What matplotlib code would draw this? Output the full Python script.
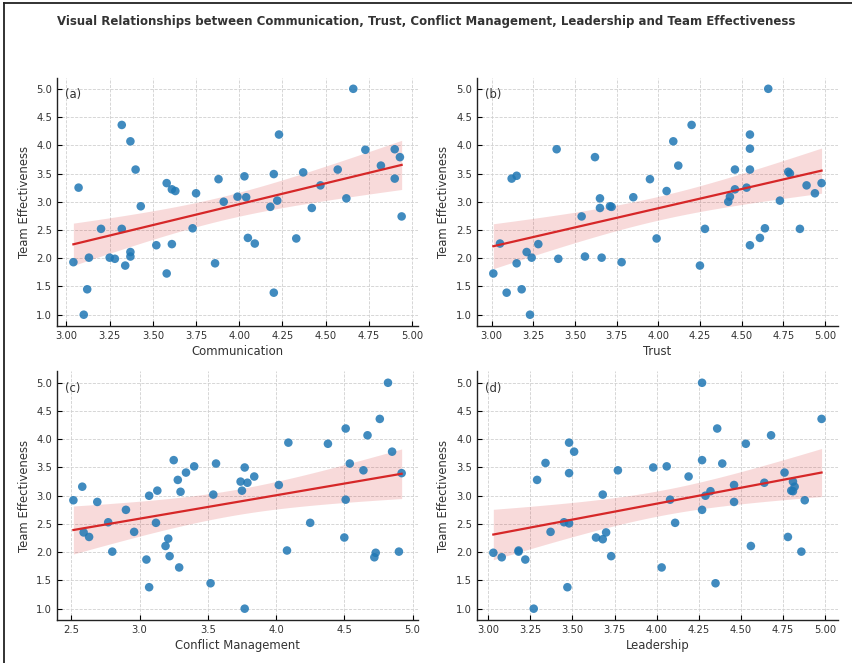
import numpy as np
import matplotlib
matplotlib.use("Agg")
import matplotlib.pyplot as plt
from matplotlib.lines import Line2D

# ---------------- data ----------------
comm_x = [3.04, 3.07, 3.10, 3.12, 3.13, 3.20, 3.25, 3.28, 3.32, 3.32, 3.34, 3.37, 3.37, 3.37, 3.40,
          3.43, 3.52, 3.58, 3.58, 3.61, 3.61, 3.63, 3.73, 3.75, 3.86, 3.88, 3.91, 3.99, 4.03, 4.04,
          4.05, 4.09, 4.18, 4.20, 4.20, 4.22, 4.23, 4.33, 4.37, 4.42, 4.47, 4.57, 4.62, 4.66, 4.73,
          4.82, 4.90, 4.90, 4.93, 4.94]
comm_y = [1.93, 3.25, 1.00, 1.45, 2.01, 2.52, 2.01, 1.99, 4.36, 2.52, 1.87, 2.03, 2.11, 4.07, 3.57,
          2.92, 2.23, 3.33, 1.73, 2.25, 3.22, 3.19, 2.53, 3.15, 1.91, 3.40, 3.00, 3.09, 3.45, 3.08,
          2.36, 2.26, 2.91, 3.49, 1.39, 3.02, 4.19, 2.35, 3.52, 2.89, 3.29, 3.57, 3.06, 5.00, 3.92,
          3.64, 3.93, 3.41, 3.79, 2.74]

trust_x = [3.01, 3.05, 3.09, 3.12, 3.15, 3.15, 3.18, 3.21, 3.23, 3.24, 3.28, 3.39, 3.40, 3.54, 3.56,
           3.62, 3.65, 3.65, 3.66, 3.71, 3.72, 3.78, 3.85, 3.95, 3.99, 4.05, 4.09, 4.12, 4.20, 4.25,
           4.28, 4.42, 4.43, 4.46, 4.46, 4.53, 4.55, 4.55, 4.55, 4.55, 4.61, 4.64, 4.66, 4.73, 4.78,
           4.79, 4.85, 4.89, 4.94, 4.98]
trust_y = [1.73, 2.26, 1.39, 3.41, 3.46, 1.91, 1.45, 2.11, 1.00, 2.01, 2.25, 3.93, 1.99, 2.74, 2.03,
           3.79, 3.06, 2.89, 2.01, 2.92, 2.91, 1.93, 3.08, 3.40, 2.35, 3.19, 4.07, 3.64, 4.36, 1.87,
           2.52, 3.00, 3.09, 3.57, 3.22, 3.25, 2.23, 4.19, 3.57, 3.94, 2.36, 2.53, 5.00, 3.02, 3.53,
           3.50, 2.52, 3.29, 3.15, 3.33]

conf_x = [2.515, 2.58, 2.59, 2.63, 2.69, 2.77, 2.80, 2.90, 2.96, 3.05, 3.07, 3.07, 3.12, 3.13, 3.19,
          3.21, 3.22, 3.25, 3.28, 3.29, 3.30, 3.34, 3.40, 3.52, 3.54, 3.56, 3.74, 3.75, 3.77, 3.77,
          3.79, 3.84, 4.02, 4.08, 4.09, 4.25, 4.38, 4.50, 4.51, 4.51, 4.54, 4.64, 4.67, 4.72, 4.73,
          4.76, 4.82, 4.85, 4.90, 4.92]
conf_y = [2.92, 3.16, 2.35, 2.27, 2.89, 2.53, 2.01, 2.75, 2.36, 1.87, 3.00, 1.38, 2.52, 3.09, 2.11,
          2.24, 1.93, 3.63, 3.28, 1.73, 3.07, 3.41, 3.52, 1.45, 3.02, 3.57, 3.25, 3.09, 3.50, 1.00,
          3.23, 3.34, 3.19, 2.03, 3.94, 2.52, 3.92, 2.26, 4.19, 2.93, 3.57, 3.45, 4.07, 1.91, 1.99,
          4.36, 5.00, 3.78, 2.01, 3.40]

lead_x = [3.03, 3.08, 3.18, 3.18, 3.22, 3.27, 3.29, 3.34, 3.37, 3.45, 3.47, 3.48, 3.48, 3.48, 3.51,
          3.64, 3.68, 3.68, 3.70, 3.73, 3.77, 3.98, 4.03, 4.06, 4.08, 4.11, 4.19, 4.27, 4.27, 4.27,
          4.29, 4.32, 4.35, 4.36, 4.39, 4.46, 4.46, 4.53, 4.56, 4.64, 4.68, 4.76, 4.78, 4.80, 4.81,
          4.81, 4.82, 4.86, 4.88, 4.98]
lead_y = [1.99, 1.91, 2.03, 2.01, 1.87, 1.00, 3.28, 3.58, 2.36, 2.53, 1.38, 3.94, 3.40, 2.51, 3.78,
          2.26, 2.23, 3.02, 2.35, 1.93, 3.45, 3.50, 1.73, 3.52, 2.93, 2.52, 3.34, 3.63, 2.75, 5.00,
          3.00, 3.08, 1.45, 4.19, 3.57, 3.19, 2.89, 3.92, 2.11, 3.23, 4.07, 3.41, 2.27, 3.09, 3.25,
          3.08, 3.16, 2.01, 2.92, 4.36]

panel_labels = ["(a)", "(b)", "(c)", "(d)"]
x_labels = ["Communication", "Trust", "Conflict Management", "Leadership"]
y_label = "Team Effectiveness"
title = ("Visual Relationships between Communication, Trust, Conflict Management, "
         "Leadership and Team Effectiveness")

datasets = [(comm_x, comm_y), (trust_x, trust_y), (conf_x, conf_y), (lead_x, lead_y)]

# ---------------- style ----------------
plt.rcParams['font.family'] = ['DejaVu Sans']
text_col = '#333333'
point_col = '#1f77b4'
line_col = '#d62728'
T95 = 2.0106  # t quantile, df = 48

fig, axes = plt.subplots(2, 2, figsize=(8.53, 6.63), dpi=100)
fig.subplots_adjust(left=0.0668, right=0.9824, bottom=0.0649, top=0.8831,
                    wspace=0.163, hspace=0.183)

for ax, (xs, ys), lab, xl in zip(axes.flat, datasets, panel_labels, x_labels):
    x = np.asarray(xs, dtype=float)
    y = np.asarray(ys, dtype=float)
    ax.scatter(x, y, s=38, color=point_col, alpha=0.85, edgecolors='none', zorder=3)

    # OLS fit and analytic 95% confidence band
    n = len(x)
    b, a = np.polyfit(x, y, 1)
    grid = np.linspace(x.min(), x.max(), 100)
    fit = a + b * grid
    resid = y - (a + b * x)
    s = np.sqrt(np.sum(resid ** 2) / (n - 2))
    sxx = np.sum((x - x.mean()) ** 2)
    se = s * np.sqrt(1.0 / n + (grid - x.mean()) ** 2 / sxx)
    ax.fill_between(grid, fit - T95 * se, fit + T95 * se, color=line_col, alpha=0.17,
                    linewidth=0, zorder=2)
    ax.plot(grid, fit, color=line_col, linewidth=1.6, zorder=4)

    ax.set_xlabel(xl, fontsize=8.4, color=text_col, labelpad=3)
    ax.set_ylabel(y_label, fontsize=8.4, color=text_col, labelpad=4)
    ax.text(0.022, 0.93, lab, transform=ax.transAxes, fontsize=8.4, color=text_col,
            va='center', ha='left')

    ax.set_yticks([1.0, 1.5, 2.0, 2.5, 3.0, 3.5, 4.0, 4.5, 5.0])
    ax.tick_params(direction='in', labelsize=7.2, labelcolor=text_col, length=3.5, width=0.8)
    ax.grid(True, linestyle='--', color='#d0d0d0', linewidth=0.6, zorder=0)
    ax.set_axisbelow(True)
    for sp in ['top', 'right']:
        ax.spines[sp].set_visible(False)
    for sp in ['left', 'bottom']:
        ax.spines[sp].set_linewidth(1.0)
        ax.spines[sp].set_color('#222222')

axes[1, 0].set_xticks([2.5, 3.0, 3.5, 4.0, 4.5, 5.0])
axes[1, 0].xaxis.set_major_formatter(matplotlib.ticker.FormatStrFormatter('%.1f'))
for ax in [axes[0, 0], axes[0, 1], axes[1, 1]]:
    ax.xaxis.set_major_formatter(matplotlib.ticker.FormatStrFormatter('%.2f'))
for ax in axes.flat:
    ax.yaxis.set_major_formatter(matplotlib.ticker.FormatStrFormatter('%.1f'))

fig.text(0.5, 0.967, title, ha='center', va='center', fontsize=8.5, fontweight='bold',
         color=text_col)

# partial figure frame (left and top edges)
W, H = 853.0, 663.0
fig.add_artist(Line2D([4 / W, 4 / W], [0, 1 - 3 / H], transform=fig.transFigure,
                      color='#222222', linewidth=1.3))
fig.add_artist(Line2D([4 / W, 1], [1 - 3 / H, 1 - 3 / H], transform=fig.transFigure,
                      color='#222222', linewidth=1.3))

fig.savefig("out.png", dpi=100)
